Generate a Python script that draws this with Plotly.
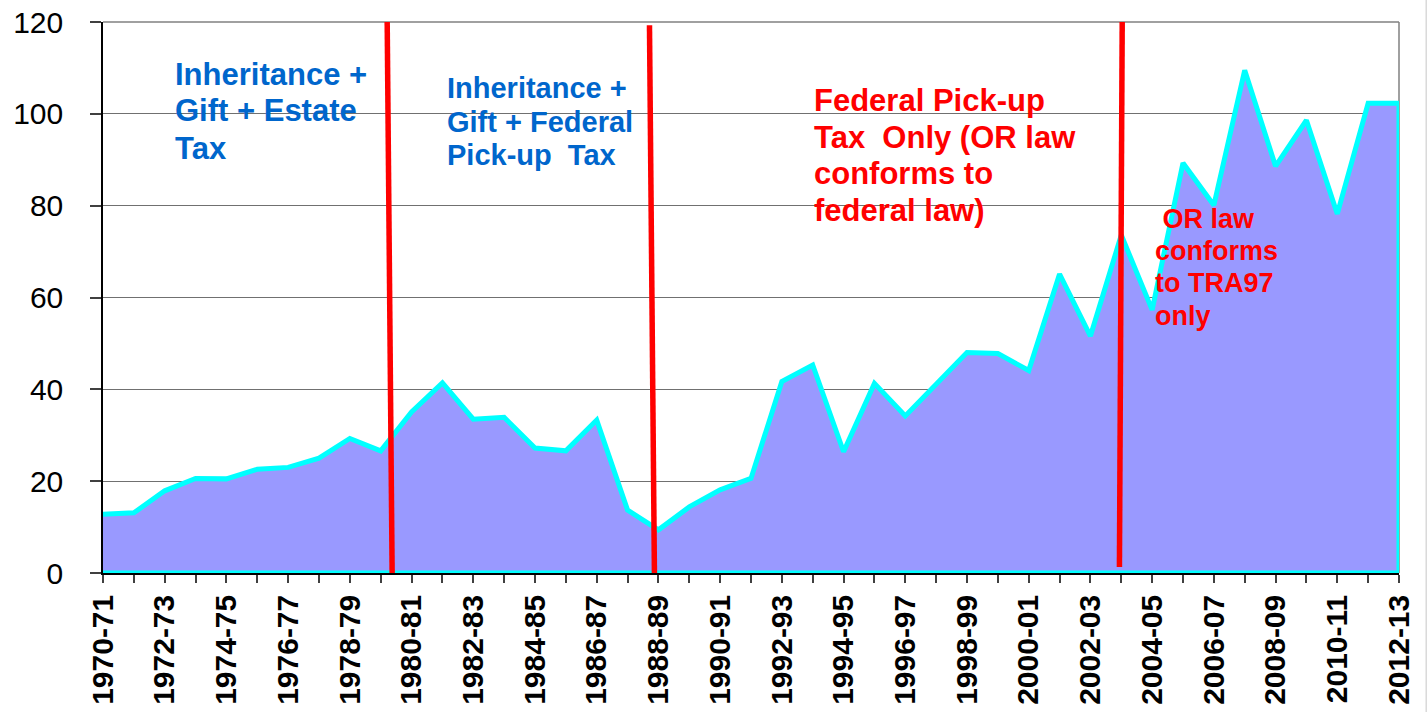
import plotly.graph_objects as go

categories = [
    "1970-71", "1971-72", "1972-73", "1973-74", "1974-75", "1975-76", "1976-77",
    "1977-78", "1978-79", "1979-80", "1980-81", "1981-82", "1982-83", "1983-84",
    "1984-85", "1985-86", "1986-87", "1987-88", "1988-89", "1989-90", "1990-91",
    "1991-92", "1992-93", "1993-94", "1994-95", "1995-96", "1996-97", "1997-98",
    "1998-99", "1999-00", "2000-01", "2001-02", "2002-03", "2003-04", "2004-05",
    "2005-06", "2006-07", "2007-08", "2008-09", "2009-10", "2010-11", "2011-12",
    "2012-13",
]
values = [
    12.8, 13.1, 17.9, 20.6, 20.5, 22.6, 23.0, 25.0, 29.3, 26.6,
    35.1, 41.4, 33.5, 33.9, 27.2, 26.6, 33.3, 13.7, 9.4, 14.4,
    18.1, 20.6, 41.7, 45.3, 26.4, 41.3, 34.2, 41.2, 48.0, 47.8,
    44.1, 65.1, 51.6, 73.6, 57.3, 89.3, 80.1, 109.5, 88.6, 98.6,
    78.2, 102.3, 102.3,
]
tick_labels = [c if i % 2 == 0 else "" for i, c in enumerate(categories)]

# regime boundaries (category index at bottom, at top)
dividers = [
    dict(x_bottom=9.37, y_bottom=0, x_top=9.21, y_top=120),
    dict(x_bottom=17.87, y_bottom=0, x_top=17.71, y_top=119.3),
    dict(x_bottom=32.94, y_bottom=1.3, x_top=33.03, y_top=120),
]

BLUE = "#0066CC"
RED = "#FF0000"
FONT = "Liberation Sans, Arial, sans-serif"

fig = go.Figure()
fig.add_trace(go.Scatter(
    x=categories + [categories[-1], categories[0]],
    y=values + [0, 0],
    mode="lines",
    fill="toself",
    fillcolor="#9999FF",
    line=dict(color="#00FFFF", width=5),
    cliponaxis=False,
    hoverinfo="skip",
    showlegend=False,
))

shapes = []
for d in dividers:
    shapes.append(dict(type="line", xref="x", yref="y",
                       x0=d["x_bottom"], y0=d["y_bottom"], x1=d["x_top"], y1=d["y_top"],
                       line=dict(color=RED, width=5.5), layer="above"))
# top and right plot border
shapes.append(dict(type="line", xref="paper", yref="paper", x0=0, x1=1, y0=1, y1=1,
                   line=dict(color="#808080", width=1.5), layer="below"))
shapes.append(dict(type="line", xref="paper", yref="paper", x0=1, x1=1, y0=0, y1=1,
                   line=dict(color="#808080", width=1.5), layer="below"))
# outer chart border (faint)
shapes.append(dict(type="line", xref="paper", yref="paper", x0=1.021, x1=1.021, y0=-0.3, y1=1.05,
                   line=dict(color="#D9D9D9", width=1.5), layer="below"))

annotations = []
def add_lines(lines, x_idx, y_centers, color, size):
    for txt, yc in zip(lines, y_centers):
        annotations.append(dict(
            text=txt, xref="x", yref="paper", x=x_idx,
            y=(573 - yc) / 551.0, xanchor="left", yanchor="middle",
            showarrow=False, align="left",
            font=dict(family=FONT, size=size, color=color, weight="bold"),
        ))

def idx(px):
    return (px - 103) / 30.83

add_lines(["Inheritance +", "Gift + Estate", "Tax"], idx(173), [74, 111, 148], BLUE, 31)
add_lines(["Inheritance +", "Gift + Federal", "Pick-up  Tax"], idx(445), [88, 121.5, 155], BLUE, 29)
add_lines(["Federal Pick-up", "Tax  Only (OR law", "conforms to", "federal law)"],
          idx(811), [101, 137.5, 173.5, 210], RED, 31)
add_lines([" OR law", "conforms", "to TRA97", "only"], idx(1152), [219, 250.5, 283, 315.5], RED, 27)

fig.update_layout(
    width=1428, height=712,
    margin=dict(l=103, r=29, t=22, b=139, pad=0),
    paper_bgcolor="white", plot_bgcolor="white",
    showlegend=False,
    shapes=shapes,
    annotations=annotations,
    xaxis=dict(
        type="category",
        categoryorder="array", categoryarray=categories,
        range=[0, 42],
        automargin=False,
        tickmode="array", tickvals=categories, ticktext=tick_labels,
        tickangle=-90,
        tickfont=dict(family=FONT, size=30, color="black", weight="bold"),
        ticks="outside", ticklen=8, tickcolor="#404040", tickwidth=1.5,
        ticklabeloverflow="allow",
        showline=True, linecolor="black", linewidth=1.5,
        showgrid=False, zeroline=False,
    ),
    yaxis=dict(
        range=[0, 120], dtick=20, tick0=0,
        automargin=False,
        tickfont=dict(family=FONT, size=30, color="black"),
        ticks="outside", ticklen=11, tickcolor="#404040", tickwidth=1.5,
        ticklabelstandoff=21,
        ticklabeloverflow="allow",
        showline=True, linecolor="black", linewidth=1.5,
        showgrid=True, gridcolor="#707070", gridwidth=1,
        zeroline=False,
    ),
)

# remove the browser's default 8px body margin so the figure fills the window exactly
fig.write_html(
    "out.html",
    config={"displayModeBar": False},
    post_script="document.body.style.margin='0';document.body.style.overflow='hidden';",
)
